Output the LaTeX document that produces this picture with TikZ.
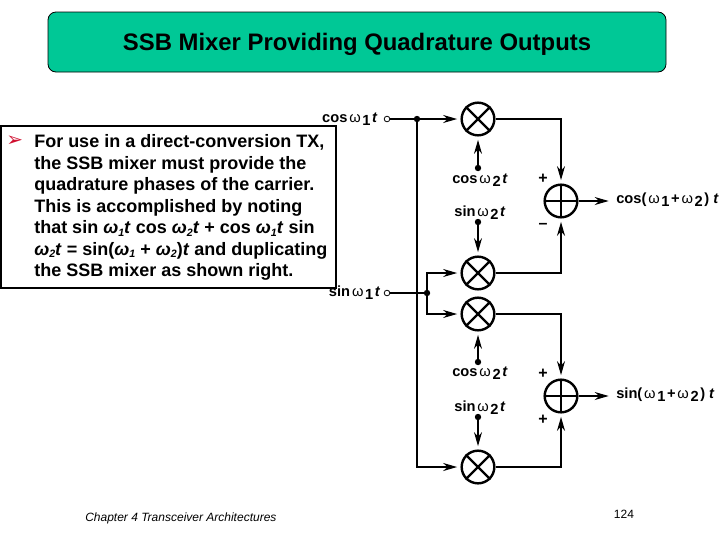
\documentclass[tikz,border=0pt]{standalone}
\usepackage{fontspec}
\setmainfont{Liberation Sans}
\newfontfamily\symfont{DejaVu Sans}
\usetikzlibrary{arrows.meta,positioning}
\definecolor{titlegreen}{HTML}{00C896}
\definecolor{bulletred}{HTML}{D01030}
% one unit is one pixel of the slide
\tikzset{
  mixer/.style={circle, draw, line width=1.8pt, minimum size=24.5pt, inner sep=0pt},
  wire/.style={line width=0.9pt},
  signal/.style={wire, shorten >=2.5pt, -{Stealth[length=10.5pt,width=6pt]}},
  term/.style={circle, draw, line width=0.6pt, fill=white, minimum size=4.2pt, inner sep=0pt},
  tap/.style={circle, fill, minimum size=4.8pt, inner sep=0pt},
  lbl/.style={font=\fontsize{11}{13}\selectfont\bfseries, inner sep=0pt},
  sgn/.style={font=\fontsize{12}{14}\selectfont\bfseries, inner sep=0pt},
}
\newcommand{\wt}[1]{\hspace{1.4pt}{\mdseries\fontsize{11}{13}\selectfont ω}\hspace{1.2pt}\raisebox{-2.5pt}{#1}\hspace{1.2pt}}
\newcommand{\om}[1]{\textit{ω}\raisebox{-2pt}{\fontsize{8}{10}\selectfont\textit{#1}}}
\begin{document}
\begin{tikzpicture}[x=0.75pt, y=-0.75pt, >=Stealth]
    \useasboundingbox (0,0) rectangle (720,540);

    % Title
    \node[draw, fill=titlegreen, rounded corners=6pt, line width=0.6pt, minimum width=463.5pt, minimum height=45pt] (title) at (357,42) {};
    \node[font=\fontsize{17.9}{21}\selectfont\bfseries, inner sep=0pt] (head) at (357,44.5) {SSB Mixer Providing Quadrature Outputs};

    % Mixers and adders
    \node[mixer] (mixA) at (478,119) {};
    \node[mixer] (mixB) at (478,273) {};
    \node[mixer] (mixC) at (478,314) {};
    \node[mixer] (mixD) at (478,467) {};
    \node[mixer] (addA) at (561,201) {};
    \node[mixer] (addB) at (561,396) {};
    \foreach \m in {mixA,mixB,mixC,mixD} {
      \draw[line width=1.8pt] (\m.45) -- (\m.225) (\m.135) -- (\m.315);
    }
    \foreach \m in {addA,addB} {
      \draw[line width=2.2pt] ([yshift=-2.25pt]\m.north) -- ([yshift=2.25pt]\m.south);
      \draw[line width=2.2pt] ([xshift=2.25pt]\m.west) -- ([xshift=-2.25pt]\m.east);
    }

    % Inputs
    \node[term] (inA) at (387,119) {};
    \node[term] (inB) at (387,293) {};
    \node[tap] (tapA) at (417,119) {};
    \node[tap] (tapB) at (427,293) {};
    \node[lbl, left=4.5pt of inA] (labA) {cos\wt{1}\textit{t}};
    \node[lbl, left=2.5pt of inB] (labB) {sin\wt{1}\textit{t}};
    \draw[wire] (inA) -- (tapA);
    \draw[wire] (inB) -- (tapB);
    \draw[signal, line width=1.2pt] (tapA) -- (mixA);
    \draw[signal, line width=1.4pt] (tapA) |- (mixD);
    \draw[signal] (tapB) |- (mixB);
    \draw[signal] (tapB) |- (mixC);

    % Carrier dots
    \node[tap] (loA) at (478,168) {};
    \node[tap] (loB) at (478,222) {};
    \node[tap] (loC) at (478,362) {};
    \node[tap] (loD) at (478,417) {};
    \node[lbl] (labC) at (480,180) {cos\wt{2}\textit{t}};
    \node[lbl] (labD) at (480,212.5) {sin\wt{2}\textit{t}};
    \node[lbl] (labE) at (480,373) {cos\wt{2}\textit{t}};
    \node[lbl] (labF) at (480,407.5) {sin\wt{2}\textit{t}};
    \draw[signal] (loA) -- (mixA);
    \draw[signal] (loB) -- (mixB);
    \draw[signal] (loC) -- (mixC);
    \draw[signal] (loD) -- (mixD);

    % Sums
    \draw[signal] (mixA) -| (addA);
    \draw[signal, line width=1.4pt] (mixB) -| (addA);
    \draw[signal] (mixC) -| (addB);
    \draw[signal, line width=1.4pt] (mixD) -| (addB);
    \node[sgn] (sgnA) at (543,179) {+};
    \node[sgn] (sgnB) at (543,226) {–};
    \node[sgn] (sgnC) at (543,374) {+};
    \node[sgn] (sgnD) at (543,420) {+};

    % Outputs
    \node[lbl, anchor=west] (outA) at (616,200) {cos(\wt{1}+\wt{2}) \textit{t}};
    \node[lbl, anchor=west] (outB) at (616,395) {sin(\wt{1}+\wt{2}) \textit{t}};
    \draw[signal, shorten >=5.5pt] (addA) -- (addA -| outA.west);
    \draw[signal, shorten >=5.5pt] (addB) -- (addB -| outB.west);

    % Text box
    \node[draw, fill=white, line width=1.4pt, anchor=north west, minimum width=251.5pt, minimum height=121.5pt, inner sep=0pt] (box) at (0,125) {};
    \node[anchor=west, inner sep=0pt, text=bulletred, font=\symfont\fontsize{15}{17}\selectfont] (bullet) at (6,141) {➢};
    \node[anchor=north west, inner sep=0pt, align=left, font=\fontsize{13.5}{16.1}\selectfont\bfseries] (body) at (34,134.5) {%
      For use in a direct-conversion TX,\\
      the SSB mixer must provide the\\
      quadrature phases of the carrier.\\
      This is accomplished by noting\\
      that sin \om{1}\textit{t} cos \om{2}\textit{t} + cos \om{1}\textit{t} sin\\
      \om{2}\textit{t} = sin(\om{1} + \om{2})\textit{t} and duplicating\\
      the SSB mixer as shown right.};

    % Footer
    \node[anchor=west, inner sep=0pt, font=\fontsize{9}{11}\selectfont\itshape] (foot) at (85,518) {Chapter 4 Transceiver Architectures};
    \node[inner sep=0pt, font=\fontsize{9}{11}\selectfont] (page) at (624,514) {124};
\end{tikzpicture}
\end{document}
